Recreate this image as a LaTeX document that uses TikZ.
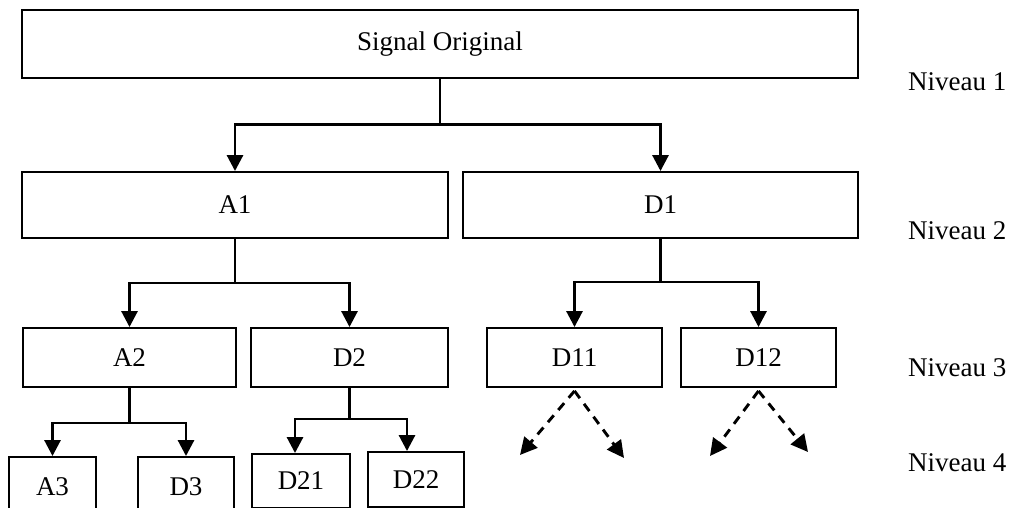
\documentclass[tikz,border=0pt]{standalone}
\usepackage{fontspec}
\setmainfont{Liberation Serif}
\usetikzlibrary{arrows.meta, positioning}

\begin{document}
\begin{tikzpicture}
[x=1pt, y=-1pt,
font=\fontsize{27}{32}\selectfont,
block_normal/.style ={rectangle, draw, fill=white, align=center, line width=1.9pt, inner sep=0pt},
block_top/.style ={block_normal, minimum width=836pt, minimum height=68pt},
block_two/.style ={block_normal, minimum height=66pt},
block_three/.style ={block_normal, minimum height=59pt},
block_niveau/.style ={anchor=west, inner sep=0pt},
line_tree/.style ={draw, line width=2.9pt, -{Triangle[width=16pt,length=16pt]}},
line_next/.style ={draw, line width=2.9pt, dash pattern=on 9pt off 7pt, -{Triangle[width=17pt,length=17pt]}}
]

\useasboundingbox (0,0) rectangle (1014,508);

%%%Niveau 1%%%
\node[block_top] (orig) at (440,44) {Signal Original};

%%%Niveau 2%%%
\node[block_two, minimum width=426pt] (a1) at (235,205) {A1};
\node[block_two, minimum width=395pt] (d1) at (660.5,205) {D1};

%%%Niveau 3%%%
\node[block_three, minimum width=213pt] (a2) at (129.5,357.5) {A2};
\node[block_three, minimum width=197pt] (d2) at (349.5,357.5) {D2};
\node[block_three, minimum width=175pt] (d11) at (574.5,357.5) {D11};
\node[block_three, minimum width=155pt] (d12) at (758.5,357.5) {D12};

%%%Niveau 4%%%
\node[block_normal, minimum width=87pt, minimum height=60pt] (a3) at (52.5,487) {A3};
\node[block_normal, minimum width=96pt, minimum height=60pt] (d3) at (186,487) {D3};
\node[block_normal, minimum width=98pt, minimum height=54pt] (d21) at (301,481) {D21};
\node[block_normal, minimum width=96pt, minimum height=55pt] (d22) at (416,479.5) {D22};

%%%Niveaux%%%
\node[block_niveau] (n1) at (908,82) {Niveau 1};
\node[block_niveau] (n2) at (908,231) {Niveau 2};
\node[block_niveau] (n3) at (908,368) {Niveau 3};
\node[block_niveau] (n4) at (908,463) {Niveau 4};

%%Pfeile%%%
\draw[line_tree] (orig.south) -- ++(0,46) -| (a1.north);
\draw[line_tree] (orig.south) -- ++(0,46) -| (d1.north);
\draw[line_tree] (a1.south) -- ++(0,44) -| (a2.north);
\draw[line_tree] (a1.south) -- ++(0,44) -| (d2.north);
\draw[line_tree] (d1.south) -- ++(0,43) -| (d11.north);
\draw[line_tree] (d1.south) -- ++(0,43) -| (d12.north);
\draw[line_tree] (a2.south) -- ++(0,35) -| (a3.north);
\draw[line_tree] (a2.south) -- ++(0,35) -| (d3.north);
\draw[line_tree] (d2.south) -- ++(0,31) -| ([xshift=-6pt]d21.north);
\draw[line_tree] (d2.south) -- ++(0,31) -| ([xshift=-9pt]d22.north);

%%%gestrichelt%%%
\coordinate (d11_l) at (520,455);
\coordinate (d11_r) at (624,458);
\coordinate (d12_l) at (710,456);
\coordinate (d12_r) at (808,452);
\draw[line_next] ([yshift=-3pt]d11.south) -- (d11_l);
\draw[line_next] ([yshift=-3pt]d11.south) -- (d11_r);
\draw[line_next] ([yshift=-3pt]d12.south) -- (d12_l);
\draw[line_next] ([yshift=-3pt]d12.south) -- (d12_r);

\end{tikzpicture}
\end{document}
